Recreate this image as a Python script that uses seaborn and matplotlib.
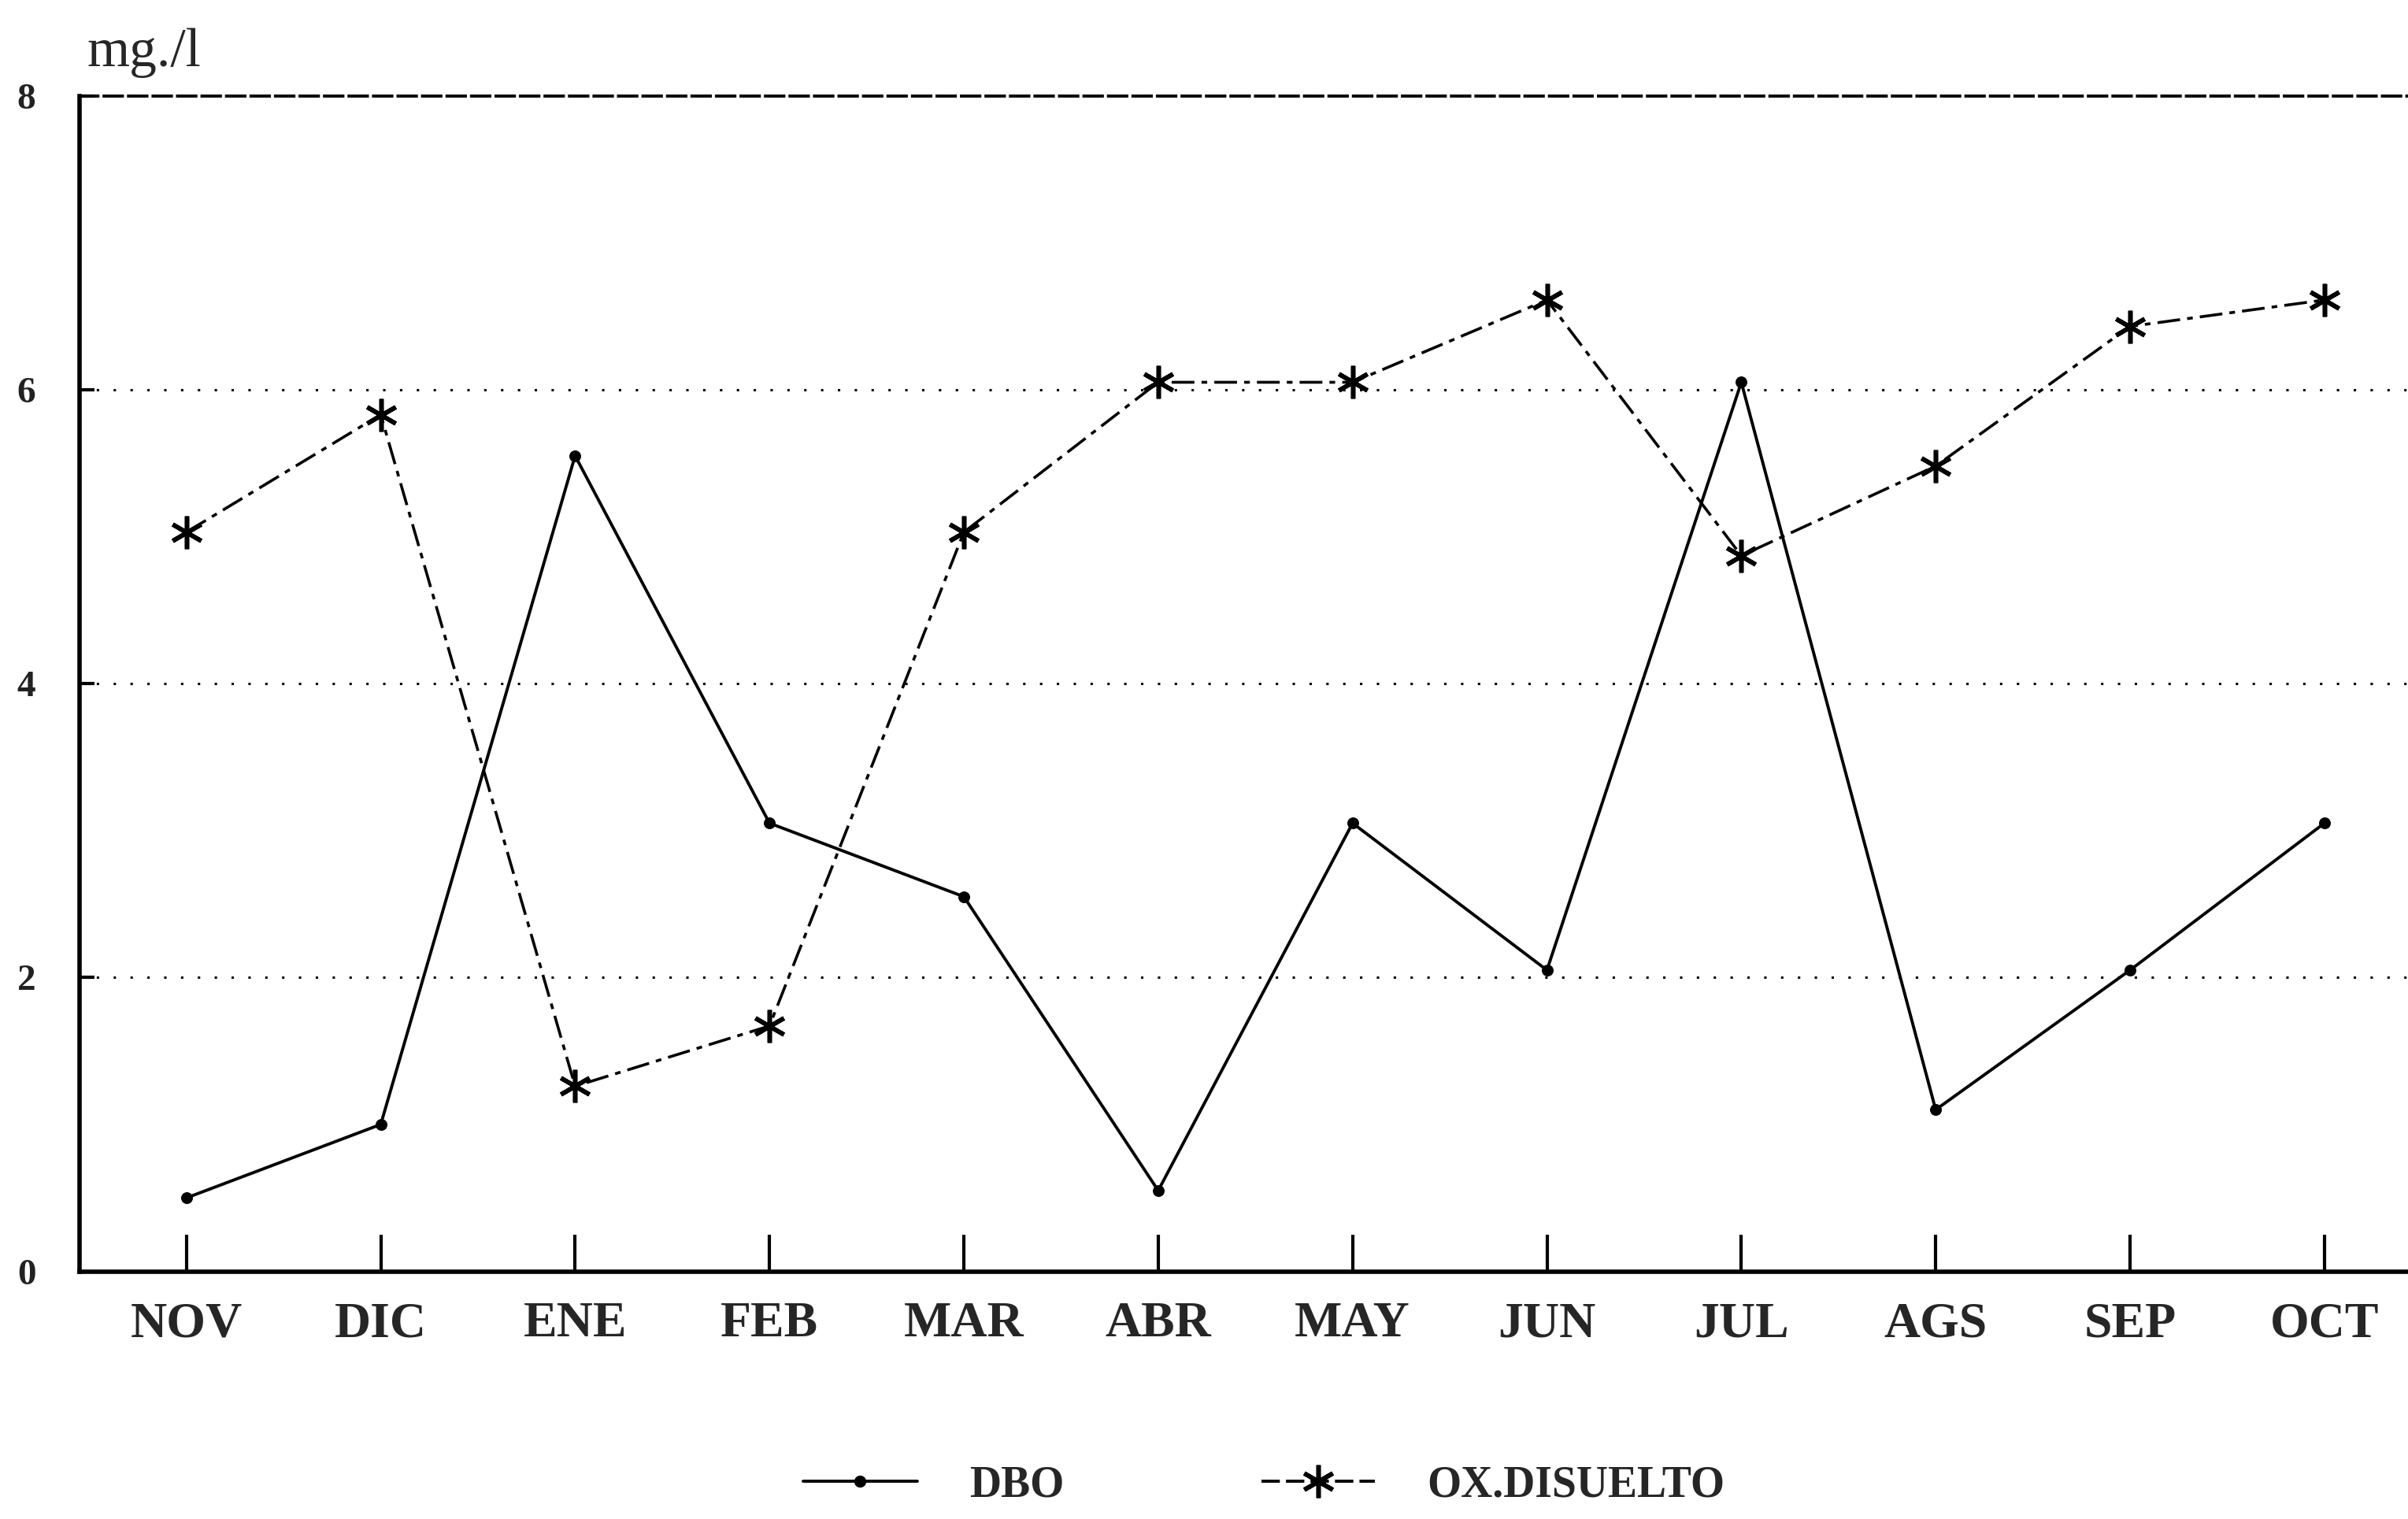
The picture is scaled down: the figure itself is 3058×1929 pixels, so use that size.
import pandas as pd
import seaborn as sns
import matplotlib.pyplot as plt
from matplotlib.lines import Line2D

meses = ['NOV', 'DIC', 'ENE', 'FEB', 'MAR', 'ABR', 'MAY', 'JUN', 'JUL', 'AGS', 'SEP', 'OCT']
dbo = [0.5, 1.0, 5.55, 3.05, 2.55, 0.55, 3.05, 2.05, 6.05, 1.1, 2.05, 3.05]
ox_disuelto = [5.03, 5.83, 1.26, 1.67, 5.03, 6.05, 6.05, 6.61, 4.87, 5.48, 6.43, 6.61]
y_ticks = [0, 2, 4, 6, 8]

df = pd.DataFrame({'idx': range(len(meses)), 'mes': meses, 'DBO': dbo, 'OX': ox_disuelto})

sns.set_style('white')
plt.rcParams['font.family'] = ['Liberation Serif', 'DejaVu Serif']
plt.rcParams['font.weight'] = 'bold'

fig = plt.figure(figsize=(30.58, 19.29), dpi=100)
ax = fig.add_axes([0.033, 0.163, 0.967, 0.774])

sns.lineplot(data=df, x='idx', y='DBO', ax=ax, color='black', linewidth=2.8,
             marker='o', markersize=10, markeredgecolor='black')
sns.lineplot(data=df, x='idx', y='OX', ax=ax, color='black', linewidth=2.6,
             linestyle=(0, (8, 2.5, 2, 2.5)), marker=(6, 2, 0), markersize=30,
             markeredgewidth=4, markeredgecolor='black')

ax.set_xlim(-0.55, 11.43)
ax.set_ylim(0, 8)
ax.set_xticks(df['idx'])
ax.set_xticklabels(meses, fontsize=46, fontweight='bold')
ax.set_yticks(y_ticks)
ax.set_yticklabels([str(v) for v in y_ticks], fontsize=34, color='#222222')
ax.set_xlabel('')
ax.set_ylabel('')

ax.tick_params(axis='x', bottom=True, direction='in', length=34, width=3, pad=28, color='black')
ax.tick_params(axis='y', left=True, direction='in', length=14, width=3, pad=40, color='black')

for y in [2, 4, 6]:
    ax.axhline(y, color='black', linestyle=(0, (1, 6)), linewidth=2.2, zorder=0)

ax.spines['left'].set_linewidth(4)
ax.spines['bottom'].set_linewidth(4)
ax.spines['top'].set_linewidth(2.8)
ax.spines['top'].set_linestyle((0, (6, 2)))
ax.spines['right'].set_visible(False)
for s in ax.spines.values():
    s.set_color('black')

fig.text(0.036, 0.965, 'mg./l', fontsize=50, fontweight='normal', ha='left', va='center')

handles = [
    Line2D([0], [0], color='black', linewidth=2.8, marker='o', markersize=10),
    Line2D([0], [0], color='black', linewidth=2.8, linestyle=(0, (6, 2)),
           marker=(6, 2, 0), markersize=30, markeredgewidth=4),
]
fig.legend(handles, ['DBO', 'OX.DISUELTO'], loc='center', bbox_to_anchor=(0.525, 0.022),
           ncol=2, frameon=False, fontsize=40, handlelength=2.6, columnspacing=4.5,
           handletextpad=1.2)

fig.savefig('out.png', dpi=100)
